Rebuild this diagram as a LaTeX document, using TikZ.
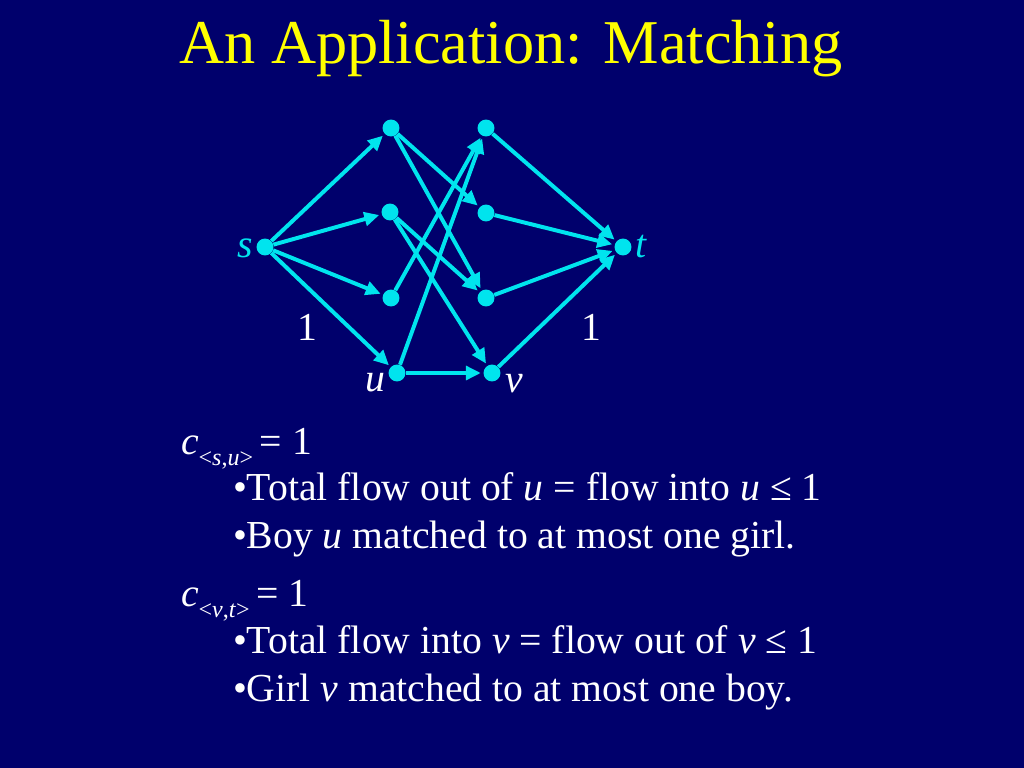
\documentclass[tikz,border=0pt]{standalone}
\usepackage{fontspec}
\setmainfont{Liberation Serif}
\usetikzlibrary{arrows.meta}
\definecolor{slidebg}{RGB}{0,0,108}
\definecolor{edgecyan}{RGB}{0,228,238}
\definecolor{titleyellow}{RGB}{255,255,0}

\begin{document}
\begin{tikzpicture}[
  x=0.24805mm,
  y=-0.24805mm,
  every node/.style={font=\fontsize{28}{34}\selectfont, text=white},
  vertex/.style={
    circle,
    fill=edgecyan,
    inner sep=0pt,
    minimum size=4.2mm
  },
  vlabel/.style={anchor=base, text=edgecyan},
  wlabel/.style={anchor=base},
  textline/.style={anchor=base west},
  arrow/.style={-{Triangle[length=3.7mm,width=3.4mm]}, line width=2.8pt, draw=edgecyan, shorten >=0.6mm}
]
\fill[slidebg] (0,0) rectangle (1024,768);
\useasboundingbox (0,0) rectangle (1024,768);

\node[anchor=base, text=titleyellow, font=\fontsize{44}{50}\selectfont] (title) at (511,64) {An Application: Matching};

% graph
\node[vertex] (s) at (265,247) {};
\node[vertex] (a1) at (391,128) {};
\node[vertex] (a2) at (390,212) {};
\node[vertex] (a3) at (391,298) {};
\node[vertex] (u) at (397,373) {};
\node[vertex] (b1) at (486,128) {};
\node[vertex] (b2) at (486,213) {};
\node[vertex] (b3) at (486,298) {};
\node[vertex] (v) at (492,373) {};
\node[vertex] (t) at (623,247) {};

\node[vlabel] (slabel) at (245,257) {\textit{s}};
\node[vlabel] (tlabel) at (641,257) {\textit{t}};
\node[wlabel] (ulabel) at (375,391) {\textit{u}};
\node[wlabel] (vlab) at (514,392) {\textit{v}};
\node[wlabel] (capsu) at (307,340) {1};
\node[wlabel] (capvt) at (591,340) {1};

\draw[arrow] (s) -- (a1);
\draw[arrow] (s) -- (a2);
\draw[arrow] (s) -- (a3);
\draw[arrow] (s) -- (u);
\draw[arrow] (a1) -- (b2);
\draw[arrow] (a1) -- (b3);
\draw[arrow] (a2) -- (b3);
\draw[arrow] (a2) -- (v);
\draw[arrow] (a3) -- (b1);
\draw[arrow] (u) -- (b1);
\draw[arrow] (u) -- (v);
\draw[arrow] (b1) -- (t);
\draw[arrow] (b2) -- (t);
\draw[arrow] (b3) -- (t);
\draw[arrow] (v) -- (t);

% capacity notes
\node[textline] (csu) at (176,454) {\textit{c}\raisebox{-0.3em}{\fontsize{17}{17}\selectfont<\textit{s},\textit{u}>}\,= 1};
\node[textline] (l1) at (228,500) {•Total flow out of \textit{u} = flow into \textit{u} ≤ 1};
\node[textline] (l2) at (228,548) {•Boy \textit{u} matched to at most one girl.};
\node[textline] (cvt) at (176,606) {\textit{c}\raisebox{-0.3em}{\fontsize{17}{17}\selectfont<\textit{v},\textit{t}>}\,= 1};
\node[textline] (l3) at (228,653) {•Total flow into \textit{v} = flow out of \textit{v} ≤ 1};
\node[textline] (l4) at (228,701) {•Girl \textit{v} matched to at most one boy.};
\end{tikzpicture}
\end{document}
